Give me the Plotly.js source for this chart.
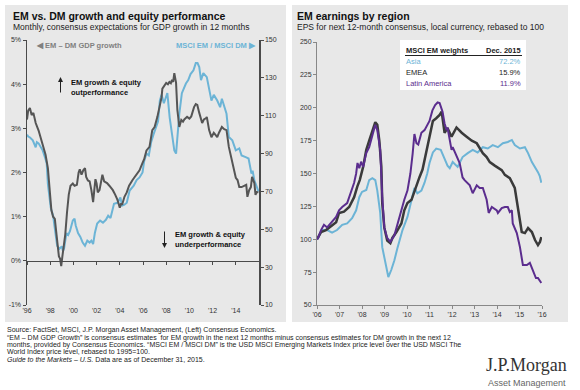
<!DOCTYPE html>
<html><head><meta charset="utf-8">
<script src="https://cdn.plot.ly/plotly-3.0.1.min.js"></script>
<style>html,body{margin:0;padding:0;background:#fff}#chart{width:580px;height:390px}</style>
</head><body><div id="chart"></div>
<script>
// ---- Left chart data ----
const gdpYears = [1996.0,1996.1,1996.25,1996.4,1996.55,1996.75,1997.0,1997.2,1997.4,1997.6,
1997.8,1997.9,1998.0,1998.1,1998.25,1998.4,1998.5,1998.6,1998.75,1998.85,
1998.95,1999.05,1999.15,1999.3,1999.45,1999.6,1999.75,1999.95,2000.1,2000.3,
2000.45,2000.55,2000.7,2000.85,2001.0,2001.1,2001.25,2001.4,2001.55,2001.7,
2001.8,2001.9,2002.0,2002.1,2002.25,2002.4,2002.5,2002.65,2002.9,2003.1,
2003.4,2003.6,2003.8,2004.0,2004.1,2004.2,2004.4,2004.6,2004.8,2005.1,
2005.4,2005.7,2005.96,2006.1,2006.3,2006.56,2006.8,2007.0,2007.24,2007.45,
2007.6,2007.67,2007.8,2008.0,2008.15,2008.27,2008.4,2008.5,2008.6,2008.7,
2008.85,2008.96,2009.13,2009.3,2009.45,2009.56,2009.8,2010.0,2010.16,2010.4,
2010.55,2010.68,2010.85,2011.0,2011.1,2011.25,2011.45,2011.5,2011.7,2011.9,
2012.1,2012.25,2012.4,2012.55,2012.7,2012.8,2013.0,2013.2,2013.4,2013.7,
2014.0,2014.15,2014.3,2014.5,2014.7,2014.9,2015.0,2015.15,2015.3,2015.4,
2015.6,2015.7,2015.8,2015.95];
const emDmGdp = [3.2,3.4,3.46,3.3,3.35,3.12,2.95,2.75,2.58,2.4,
2.1,1.7,1.3,1.15,1.0,0.95,0.7,0.45,0.1,0.05,
-0.12,0.1,0.3,0.6,1.1,1.5,1.7,1.75,1.7,1.72,
2.0,2.07,1.95,2.05,2.1,1.9,1.82,1.8,1.6,1.33,
1.6,1.85,1.75,1.55,1.6,1.85,1.95,1.8,1.76,1.7,
1.6,1.5,1.38,1.2,1.3,1.27,1.45,1.55,1.7,1.83,
1.95,2.05,2.22,2.3,2.5,2.58,2.96,3.03,3.26,3.5,
3.7,3.9,3.95,4.03,4.0,4.05,4.02,4.1,4.05,4.25,
4.03,3.42,3.03,3.19,3.15,3.2,3.26,3.22,3.27,3.48,
3.55,3.53,3.35,3.19,3.12,3.2,3.23,3.26,2.96,2.8,
2.9,2.85,2.8,2.9,3.0,3.03,2.98,2.96,2.58,2.22,
1.88,1.83,1.67,1.67,1.7,1.72,1.45,1.6,1.67,1.9,
1.76,1.49,1.56,1.55];
const ratioYears = [1996.0,1996.1,1996.26,1996.5,1996.75,1996.85,1997.0,1997.15,1997.35,1997.6,
1997.7,1997.8,1997.97,1998.05,1998.25,1998.4,1998.6,1998.8,1999.0,1999.1,
1999.2,1999.4,1999.55,1999.7,1999.95,2000.1,2000.2,2000.4,2000.6,2000.8,
2001.0,2001.2,2001.4,2001.55,2001.7,2001.85,2002.05,2002.3,2002.55,2002.8,
2003.0,2003.2,2003.5,2003.8,2004.05,2004.2,2004.4,2004.6,2004.85,2005.2,
2005.45,2005.7,2005.96,2006.1,2006.3,2006.5,2006.7,2006.9,2007.1,2007.3,
2007.45,2007.6,2007.8,2008.0,2008.1,2008.3,2008.5,2008.7,2008.85,2008.96,
2009.13,2009.35,2009.7,2009.9,2010.1,2010.35,2010.55,2010.7,2010.85,2011.0,
2011.2,2011.5,2011.7,2011.9,2012.1,2012.4,2012.65,2012.8,2013.2,2013.4,
2013.7,2014.0,2014.3,2014.5,2014.9,2015.1,2015.35,2015.45,2015.6,2015.8,
2015.95];
const msciRatio = [100,99,98.5,97,93.3,96,95.4,94,91.7,87,
84.8,74,65,61.4,57.2,49,41.3,39.7,41,38.5,
40,48,47,49,54.6,55.6,52,48,46,43,
41.3,44,43,44,42.2,48,53,54.6,53.5,55,
57.2,56,63.5,64,66.8,62.5,63,64,70.5,73,
76,77.4,80,86,90,89,96,100,103,107,
118,121,116.6,120,122,109,100,91.6,90,100.7,
111,121.9,127,128.8,132,134,137.8,137.8,135.7,128.8,
132.5,130.4,123.5,118,121,118,114.5,119,111,98.7,
97,91.7,92.7,89,88,87.4,79.4,81,75.8,72,
70];
const leftTickYears = [1996,1998,2000,2002,2004,2006,2008,2010,2012,2014];
const leftTickLabels = ["'96","'98","'00","'02","'04","'06","'08","'10","'12","'14"];
const gdpTickVals = [-1,0,1,2,3,4,5];
const gdpTickLabels = ['-1%','0%','1%','2%','3%','4%','5%'];
const ratioTickVals = [10,30,50,70,90,110,130,150];

// ---- Right chart data ----
const asiaYears = [2006.0,2006.05,2006.22,2006.45,2006.67,2006.89,2007.12,2007.34,2007.56,2007.74,
2007.88,2008.0,2008.19,2008.32,2008.46,2008.59,2008.68,2008.81,2008.9,2008.99,
2009.08,2009.17,2009.3,2009.44,2009.57,2009.8,2010.02,2010.2,2010.33,2010.46,
2010.64,2010.78,2010.9,2011.0,2011.15,2011.3,2011.5,2011.7,2011.8,2011.9,
2012.03,2012.25,2012.47,2012.7,2012.92,2013.14,2013.37,2013.59,2013.81,2014.04,
2014.26,2014.48,2014.66,2014.79,2015.02,2015.24,2015.38,2015.55,2015.69,2015.82,
2015.9,2015.97];
const asiaEps = [100,101,107,107,105,107,111,112,116,122,
132,136,137.5,145,146.5,145,137,120,94,86.5,
76.6,71.3,76.6,84,93,107,117,130,139,135,
137,143,150,158,166,169,168,160,156,154,
158.7,155,162.5,165.5,168,166,170,169,171.6,170,
173,174,175.5,171.6,169,170,165.5,158.7,155,151,
148,143];
const emeaYears = [2006.0,2006.18,2006.4,2006.54,2006.67,2006.85,2006.98,2007.2,2007.43,2007.65,
2007.79,2007.9,2008.05,2008.19,2008.32,2008.46,2008.59,2008.68,2008.77,2008.86,
2008.9,2008.99,2009.12,2009.26,2009.35,2009.53,2009.75,2009.88,2010.02,2010.2,
2010.33,2010.55,2010.69,2010.9,2011.0,2011.15,2011.3,2011.45,2011.54,2011.62,
2011.67,2011.8,2011.98,2012.2,2012.43,2012.65,2012.88,2013.1,2013.23,2013.37,
2013.54,2013.68,2013.9,2014.12,2014.21,2014.35,2014.57,2014.79,2014.93,2015.1,
2015.24,2015.38,2015.55,2015.69,2015.82,2015.91,2015.97];
const emeaEps = [100,105.5,107,109,111,113,120,121,124.5,132,
140,145,155,168,175,183,189,187,175,155,
127.5,109,99,97,101,105.5,112,122,127.5,130,
137,147,153,170,180,190,192,194.5,197,185,
181,184.5,178,185,181,178,175,173,169,165.5,
162.5,158.7,156,154,152.6,149,146.5,139,124.5,105.5,
104.7,108.5,105.5,99.4,95.6,98,101.7];
const latamYears = [2006.0,2006.05,2006.18,2006.31,2006.45,2006.63,2006.85,2006.98,2007.12,2007.34,
2007.52,2007.65,2007.74,2007.8,2007.88,2007.96,2008.05,2008.19,2008.32,2008.46,
2008.59,2008.68,2008.81,2008.9,2008.99,2009.12,2009.26,2009.44,2009.66,2009.88,
2010.02,2010.15,2010.25,2010.33,2010.42,2010.5,2010.64,2010.78,2011.0,2011.13,
2011.25,2011.36,2011.45,2011.58,2011.67,2011.76,2011.8,2011.89,2011.98,2012.03,
2012.2,2012.34,2012.47,2012.56,2012.79,2012.92,2013.1,2013.23,2013.37,2013.54,
2013.63,2013.77,2013.99,2014.04,2014.21,2014.35,2014.48,2014.57,2014.66,2014.7,
2014.88,2015.02,2015.15,2015.33,2015.46,2015.6,2015.73,2015.82,2015.97];
const latamEps = [100,101,107,111,109,113,117,122,124.5,127.5,
136,143,150,158,154,159,155,165.6,170,179,
187,183,168,132,109,101,98,103,117,130,
137,150,165,180,173,172,181,183,190,198,
202,204,203.5,197,188,183,185,175,168,170,
164,158,147,145,141,135,141,139,139,130,
120,124.5,122,120,123.7,124.5,124.5,120.7,122,112,
104.7,94,80.4,80.4,82,76.6,70.5,70.5,66.7];
const rightTickYears = [2006,2007,2008,2009,2010,2011,2012,2013,2014,2015,2016];
const rightTickLabels = ["'06","'07","'08","'09","'10","'11","'12","'13","'14","'15","'16"];
const epsTickVals = [50,75,100,125,150,175,200,225,250];
const weightRegions = ['Asia','EMEA','Latin America'];
const weightValues = ['72.2%','15.9%','11.9%'];

// ---- styling / layout ----
const W = 580, H = 390;
const px = x => x / W, py = y => 1 - y / H;
const FONT = 'Liberation Sans, Arial, Helvetica, sans-serif';
const BLUE = '#6cb4d6', GREY = '#555555', DARK = '#3a3a3a', PURPLE = '#5b2d8e';
const AX = '#4a4a4a';

const traces = [
  {x: gdpYears, y: emDmGdp, xaxis: 'x3', yaxis: 'y', mode: 'lines', line: {color: GREY, width: 2}, hoverinfo: 'skip'},
  {x: ratioYears, y: msciRatio, xaxis: 'x', yaxis: 'y2', mode: 'lines', line: {color: BLUE, width: 2}, hoverinfo: 'skip'},
  {x: asiaYears, y: asiaEps, xaxis: 'x2', yaxis: 'y3', mode: 'lines', line: {color: BLUE, width: 2}, hoverinfo: 'skip'},
  {x: emeaYears, y: emeaEps, xaxis: 'x2', yaxis: 'y3', mode: 'lines', line: {color: DARK, width: 2.5}, hoverinfo: 'skip'},
  {x: latamYears, y: latamEps, xaxis: 'x2', yaxis: 'y3', mode: 'lines', line: {color: PURPLE, width: 2}, hoverinfo: 'skip'}
];

const tf = {family: FONT, size: 7, color: '#333'};
const zeroPos = py(305) + (0 - (-1)) / 6 * (py(40) - py(305));

const layout = {
  width: W, height: H,
  margin: {l: 0, r: 0, t: 0, b: 0},
  paper_bgcolor: '#ffffff', plot_bgcolor: 'rgba(0,0,0,0)',
  showlegend: false,
  font: {family: FONT},
  xaxis: {domain: [px(27), px(259)], range: [1996, 2016], anchor: 'y', showline: false, ticks: '',
    tickvals: leftTickYears, ticktext: leftTickLabels, tickfont: tf, showgrid: false, zeroline: false, fixedrange: true},
  xaxis3: {overlaying: 'x', anchor: 'free', position: zeroPos, range: [1996, 2016], showline: true, linecolor: AX, linewidth: 1.5,
    ticks: 'outside', ticklen: 3, tickcolor: AX, tickvals: leftTickYears, showticklabels: false, showgrid: false, zeroline: false},
  yaxis: {domain: [py(305), py(40)], range: [-1, 5], anchor: 'x', showline: true, linecolor: AX, linewidth: 1.5,
    ticks: 'outside', ticklen: 3, tickcolor: AX, tickvals: gdpTickVals, ticktext: gdpTickLabels, tickfont: tf, showgrid: false, zeroline: false},
  yaxis2: {overlaying: 'y', side: 'right', anchor: 'x', range: [10, 150], showline: true, linecolor: AX, linewidth: 1.5,
    ticks: 'outside', ticklen: 3, tickcolor: AX, tickvals: ratioTickVals, tickfont: tf, showgrid: false, zeroline: false},
  xaxis2: {domain: [px(317), px(542)], range: [2006, 2016], anchor: 'y3', showline: true, linecolor: '#888', linewidth: 1,
    ticks: 'outside', ticklen: 3, tickcolor: '#888', tickvals: rightTickYears, ticktext: rightTickLabels, tickfont: tf, showgrid: false, zeroline: false},
  yaxis3: {domain: [py(305), py(42)], range: [50, 250], anchor: 'x2', showline: true, linecolor: '#888', linewidth: 1,
    ticks: 'outside', ticklen: 3, tickcolor: '#888', tickvals: epsTickVals, tickfont: tf, showgrid: false, zeroline: false},
  shapes: [
    {type: 'rect', xref: 'paper', yref: 'paper', x0: px(5), x1: px(286), y0: py(322), y1: py(5), fillcolor: '#e8e8e8', line: {width: 0}, layer: 'below'},
    {type: 'rect', xref: 'paper', yref: 'paper', x0: px(292), x1: px(568), y0: py(322), y1: py(5), fillcolor: '#e8e8e8', line: {width: 0}, layer: 'below'},
    {type: 'rect', xref: 'paper', yref: 'paper', x0: px(400), x1: px(526), y0: py(90), y1: py(40), fillcolor: '#ffffff', line: {width: 0}, layer: 'below'},
    {type: 'line', xref: 'paper', yref: 'paper', x0: px(405), x1: px(522), y0: py(55.5), y1: py(55.5), line: {color: '#222', width: 1}}
  ],
  annotations: []
};

function T(text, x, y, size, color, xa, extra) {
  const a = {text: text, x: px(x), y: py(y), xref: 'paper', yref: 'paper', showarrow: false,
    xanchor: xa || 'left', yanchor: 'middle', borderpad: 0,
    font: {family: FONT, size: size, color: color}};
  return Object.assign(a, extra || {});
}
const A = layout.annotations;
A.push(T('<b>EM vs. DM growth and equity performance</b>', 12, 16.5, 10.5, '#111'));
A.push(T('Monthly, consensus expectations for GDP growth in 12 months', 12, 27, 8.5, '#222'));
A.push(T('<b>EM earnings by region</b>', 296, 16.5, 10.5, '#111'));
A.push(T('EPS for next 12-month consensus, local currency, rebased to 100', 296, 27, 8.5, '#222'));
A.push(T('<b>◀ EM – DM GDP growth</b>', 35, 45, 7.5, '#808080'));
A.push(T('<b>MSCI EM / MSCI DM ▶</b>', 257, 45, 7.5, BLUE, 'right'));
A.push(T('<b>EM growth & equity<br>outperformance</b>', 70, 87.5, 7.5, '#111', 'left', {align: 'left'}));
A.push(T('<b>EM growth & equity<br>underperformance</b>', 174, 239.5, 7.5, '#111', 'left', {align: 'left'}));
A.push({text: '', x: px(60.5), y: py(77), xref: 'paper', yref: 'paper', showarrow: true, ax: 0, ay: 17,
  arrowhead: 2, arrowsize: 1, arrowwidth: 1, arrowcolor: '#222'});
A.push({text: '', x: px(164.5), y: py(248), xref: 'paper', yref: 'paper', showarrow: true, ax: 0, ay: -18,
  arrowhead: 2, arrowsize: 1, arrowwidth: 1, arrowcolor: '#222'});
// weights table
A.push(T('<b>MSCI EM weights</b>', 405, 51, 7.5, '#222'));
A.push(T('<b>Dec. 2015</b>', 522, 51, 7.5, '#222', 'right'));
const rowColors = [BLUE, '#222', PURPLE];
const rowY = [62, 72.5, 83];
for (let i = 0; i < weightRegions.length; i++) {
  A.push(T(weightRegions[i], 405, rowY[i], 7.5, rowColors[i]));
  A.push(T(weightValues[i], 522, rowY[i], 7.5, rowColors[i], 'right'));
}
// footnotes
const notes = [
  'Source: FactSet, MSCI, J.P. Morgan Asset Management, (Left) Consensus Economics.',
  '“EM – DM GDP Growth” is consensus estimates  for EM growth in the next 12 months minus consensus estimates for DM growth in the next 12',
  'months, provided by Consensus Economics. “MSCI EM / MSCI DM” is the USD MSCI Emerging Markets Index price level over the USD MSCI The',
  'World Index price level, rebased to 1995=100.',
  '<i>Guide to the Markets – U.S.</i> Data are as of December 31, 2015.'
];
const noteY = [330, 337.5, 344.5, 352, 359];
notes.forEach((n, i) => A.push(T(n, 6, noteY[i], 7, '#222')));
// logo
A.push(T('J.P.Morgan', 568, 365, 18, '#333', 'right', {font: {family: 'Liberation Serif, Times New Roman, serif', size: 18, color: '#333'}}));
A.push(T('Asset Management', 567, 382.5, 9, '#666', 'right'));

Plotly.newPlot('chart', traces, layout, {staticPlot: true, displayModeBar: false});
</script>
</body></html>
